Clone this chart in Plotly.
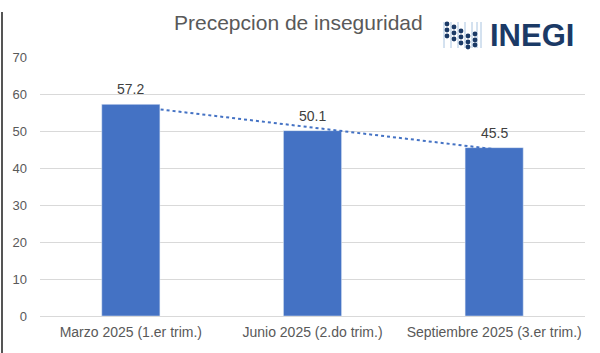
import plotly.graph_objects as go
import numpy as np

categories = ["Marzo 2025 (1.er trim.)", "Junio 2025 (2.do trim.)", "Septiembre 2025 (3.er trim.)"]
values = [57.2, 50.1, 45.5]
y_ticks = [0, 10, 20, 30, 40, 50, 60, 70]

# linear trendline (as in Excel)
xi = np.arange(len(values))
slope, intercept = np.polyfit(xi, values, 1)
trend = [slope * i + intercept for i in xi]

W, H = 600, 353
L, R, T, B = 40, 15, 57, 37
PW, PH = W - L - R, H - T - B


def px(x):
    return (x - L) / PW


def py(y):
    return (H - B - y) / PH


blue = "#4472C4"
fig = go.Figure()
fig.add_trace(go.Bar(
    x=categories, y=values, marker_color=blue,
    cliponaxis=False, width=0.32,
))
fig.add_trace(go.Scatter(
    x=categories, y=trend, mode="lines",
    line=dict(color=blue, width=2, dash="dot"), hoverinfo="skip",
))

annotations = [
    dict(x=c, y=v, text=f"{v:.1f}", showarrow=False, yanchor="bottom", yshift=5,
         font=dict(size=14, color="#404040", family="Liberation Sans"))
    for c, v in zip(categories, values)
]
annotations += [
    dict(text="Precepcion de inseguridad", x=px(298), xref="paper", y=py(22), yref="paper",
         xanchor="center", yanchor="middle",
         showarrow=False, font=dict(size=21, color="#595959", family="Liberation Sans")),
    dict(text="INEGI", x=px(576), xref="paper", y=py(36), yref="paper", xanchor="right",
         yanchor="middle",
         showarrow=False, font=dict(size=31, color="#1B3A66", family="Liberation Sans", weight="bold")),
]

shapes = []
# logo: thin vertical lines and dots
for lx in [444, 451, 458, 465, 472, 477, 481]:
    shapes.append(dict(type="line", xref="paper", yref="paper",
                       x0=px(lx), x1=px(lx), y0=py(22), y1=py(48),
                       line=dict(color="#A9C4E0", width=1)))
dot_cols = [(447, [24, 30, 36]), (454, [27, 33, 39]), (461, [31, 37, 43]),
            (468, [36, 42, 47]), (475, [34, 40, 45])]
for cx, ys in dot_cols:
    for cy in ys:
        shapes.append(dict(type="circle", xref="paper", yref="paper",
                           x0=px(cx - 2.4), x1=px(cx + 2.4), y0=py(cy + 2.4), y1=py(cy - 2.4),
                           fillcolor="#1B3A66", line=dict(width=0)))
# left frame edge
shapes.append(dict(type="line", xref="paper", yref="paper",
                   x0=px(2), x1=px(2), y0=py(12), y1=py(353),
                   line=dict(color="#555555", width=2)))

fig.update_layout(
    width=W, height=H,
    margin=dict(l=L, r=R, t=T, b=B),
    paper_bgcolor="white", plot_bgcolor="white",
    showlegend=False,
    font=dict(family="Liberation Sans", color="#595959", size=14),
    yaxis=dict(range=[0, 70], tickvals=y_ticks, showgrid=True,
               gridcolor="#d9d9d9", gridwidth=1, zeroline=False,
               ticks="", ticklen=0, tickfont=dict(size=13, color="#595959"),
               ticklabelstandoff=12,
               showline=False, fixedrange=True),
    xaxis=dict(showline=True, linecolor="#d9d9d9", linewidth=1,
               tickfont=dict(size=14, color="#595959"), ticks="",
               ticklabelstandoff=3),
    annotations=annotations,
    shapes=shapes,
)

fig.write_html("out.html")
